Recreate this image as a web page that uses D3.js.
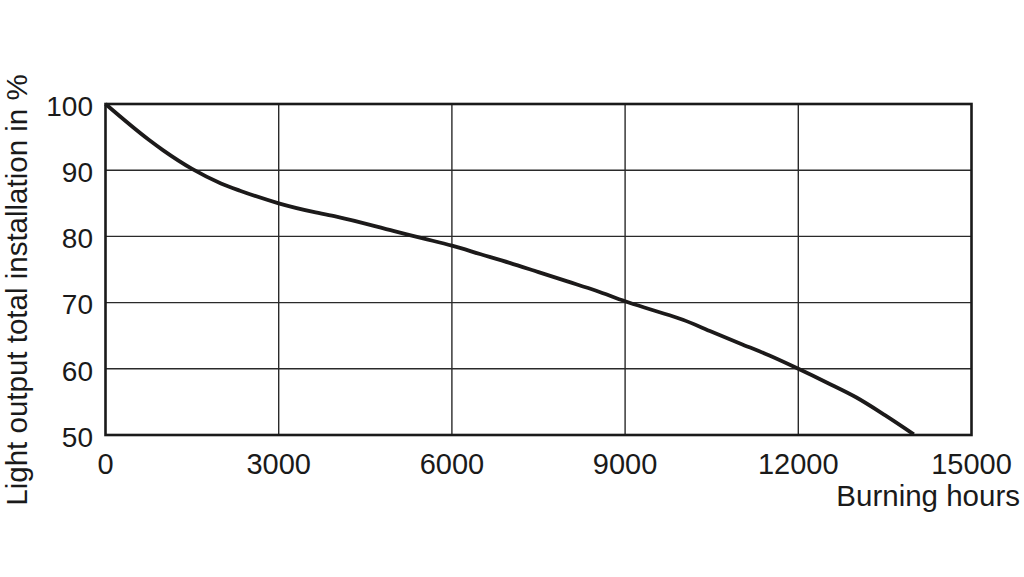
<!DOCTYPE html>
<html>
<head>
<meta charset="utf-8">
<script src="https://cdn.jsdelivr.net/npm/d3@7"></script>
<style>
  html, body { margin: 0; padding: 0; background: #fff; }
  svg { display: block; }
  text { font-family: "Liberation Sans", Arial, sans-serif; fill: #1a1a1a; }
</style>
</head>
<body>
<svg id="chart" width="1024" height="577"></svg>
<script>
// Data
const hours = [0, 750, 1000, 1500, 2000, 2330, 3000, 3600, 4000, 5000, 5500, 6000, 6500, 7000, 7500, 8000, 8500, 9000, 9500, 10000, 10500, 11000, 11500, 12000, 12500, 13000, 13500, 14000];
const lightOutput = [100, 94.6, 93.0, 90.2, 88.0, 86.9, 85.0, 83.7, 83.0, 80.8, 79.7, 78.6, 77.3, 76.0, 74.6, 73.2, 71.8, 70.2, 68.8, 67.4, 65.6, 63.8, 62.0, 60.0, 57.9, 55.7, 53.0, 50.1];
const xTicks = [0, 3000, 6000, 9000, 12000, 15000];
const yTicks = [50, 60, 70, 80, 90, 100];
const xTitle = "Burning hours";
const yTitle = "Light output total installation in %";

const svg = d3.select("#chart");
const plotL = 105.5, plotR = 971.5, plotT = 104, plotB = 435;

const x = d3.scaleLinear().domain([0, 15000]).range([plotL, plotR]);
const y = d3.scaleLinear().domain([50, 100]).range([plotB, plotT]);

// grid
svg.append("g").selectAll("line").data(xTicks.slice(1, -1)).join("line")
  .attr("x1", d => x(d)).attr("x2", d => x(d))
  .attr("y1", plotT).attr("y2", plotB)
  .attr("stroke", "#2a2a2a").attr("stroke-width", 1.4);
svg.append("g").selectAll("line").data(yTicks.slice(1, -1)).join("line")
  .attr("x1", plotL).attr("x2", plotR)
  .attr("y1", d => y(d)).attr("y2", d => y(d))
  .attr("stroke", "#2a2a2a").attr("stroke-width", 1.4);

// curve
const line = d3.line().x((d, i) => x(hours[i])).y(d => y(d)).curve(d3.curveMonotoneX);
svg.append("path").datum(lightOutput)
  .attr("d", line)
  .attr("fill", "none")
  .attr("stroke", "#1c1a1a")
  .attr("stroke-width", 3.8)
  .attr("stroke-linejoin", "round");

// border
svg.append("rect")
  .attr("x", plotL).attr("y", plotT)
  .attr("width", plotR - plotL).attr("height", plotB - plotT)
  .attr("fill", "none").attr("stroke", "#1a1a1a").attr("stroke-width", 2.6);

// tick labels
svg.append("g").selectAll("text").data(yTicks).join("text")
  .attr("x", 93).attr("y", d => y(d) + 2)
  .attr("dy", "0.35em")
  .attr("text-anchor", "end")
  .attr("font-size", 28)
  .text(d => d);

svg.append("g").selectAll("text").data(xTicks).join("text")
  .attr("x", d => x(d)).attr("y", 474)
  .attr("text-anchor", "middle")
  .attr("font-size", 29)
  .text(d => d);

// axis titles
svg.append("text")
  .attr("x", 1020).attr("y", 506)
  .attr("text-anchor", "end")
  .attr("font-size", 29.5)
  .text(xTitle);

svg.append("text")
  .attr("transform", "translate(27,290) rotate(-90)")
  .attr("text-anchor", "middle")
  .attr("font-size", 29.5)
  .text(yTitle);
</script>
</body>
</html>
